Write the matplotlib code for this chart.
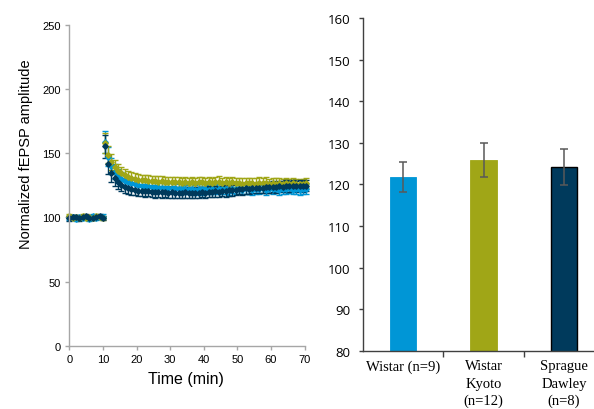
import numpy as np
import matplotlib
matplotlib.use("Agg")
import matplotlib.pyplot as plt

# ---------------- data ----------------
# time course: baseline (min 0-10) and post-induction (min 10.5-70.5)
base_t = np.arange(0, 11, 1.0)
post_t = np.arange(10.5, 71, 1.0)

wistar_base = [99.5, 100.2, 99.1, 100.6, 99.8, 100.4, 98.9, 100.9, 99.6, 100.3, 100.7]
wk_base = [100.8, 99.4, 100.5, 99.9, 101.2, 99.3, 100.6, 99.7, 101.0, 100.2, 99.6]
sd_base = [99.2, 100.6, 100.1, 99.4, 100.3, 100.9, 99.8, 99.5, 100.4, 100.8, 99.9]

wistar_base_sem = [1.6, 1.4, 1.8, 1.5, 1.7, 1.3, 1.9, 1.5, 1.6, 1.4, 1.7]
wk_base_sem = [1.5, 1.7, 1.4, 1.6, 1.8, 1.5, 1.3, 1.7, 1.6, 1.5, 1.4]
sd_base_sem = [1.7, 1.5, 1.6, 1.9, 1.4, 1.6, 1.8, 1.5, 1.3, 1.7, 1.6]

wistar_post = [159.0, 147.5, 140.2, 135.6, 132.4, 130.1, 128.6, 127.3, 126.5, 125.9,
               125.2, 124.9, 124.3, 124.6, 123.8, 123.5, 123.9, 123.1, 122.8, 123.3,
               122.6, 122.9, 122.2, 122.7, 121.9, 122.4, 122.1, 121.6, 122.3, 121.8,
               122.0, 121.5, 122.2, 121.7, 122.4, 121.9, 122.1, 121.6, 122.5, 121.8,
               122.3, 121.7, 122.6, 122.0, 121.4, 122.2, 121.9, 122.7, 121.6, 122.3,
               121.8, 122.5, 121.5, 122.2, 121.9, 122.6, 121.7, 122.1, 121.4, 122.3, 121.9]
wk_post = [158.0, 149.0, 143.2, 139.1, 136.4, 134.5, 133.0, 131.8, 130.9, 130.2,
           129.5, 129.0, 129.3, 128.6, 128.2, 128.5, 127.9, 128.3, 127.6, 128.0,
           127.3, 127.8, 127.5, 127.1, 127.7, 127.2, 127.6, 127.0, 127.4, 127.9,
           127.2, 127.6, 127.0, 127.3, 127.8, 126.9, 127.4, 126.9, 127.5, 126.8,
           127.0, 126.4, 127.2, 126.7, 126.9, 126.4, 127.1, 126.6, 127.2, 126.0,
           126.6, 126.3, 127.0, 125.8, 126.5, 126.1, 126.9, 126.0, 126.4, 126.2, 126.7]
sd_post = [155.5, 141.5, 134.6, 130.4, 127.5, 125.6, 124.1, 123.0, 122.2, 121.6,
           121.0, 120.7, 120.3, 120.6, 119.9, 119.7, 120.1, 119.5, 119.8, 119.3,
           119.6, 119.1, 119.4, 119.0, 119.5, 119.2, 118.9, 119.4, 119.1, 119.7,
           119.4, 120.0, 119.7, 120.3, 120.1, 120.7, 120.6, 121.2, 121.1, 121.7,
           122.2, 122.0, 122.6, 122.5, 123.0, 122.8, 123.3, 123.1, 123.6, 123.4,
           124.0, 123.7, 124.3, 124.1, 124.6, 124.2, 124.8, 124.4, 124.9, 124.5, 124.7]

wistar_post_sem = [8.5, 7.2, 6.4, 5.8, 5.4, 5.0, 4.8, 4.6, 4.4, 4.3,
                   4.1, 4.2, 3.9, 4.0, 3.8, 4.1, 3.9, 3.7, 4.0, 3.8,
                   3.9, 3.6, 3.8, 4.0, 3.7, 3.9, 3.6, 3.8, 3.7, 4.0,
                   3.8, 3.6, 3.9, 3.7, 3.8, 4.0, 3.6, 3.9, 3.7, 3.8,
                   3.9, 3.7, 4.0, 3.6, 3.8, 3.9, 3.7, 3.8, 4.0, 3.6,
                   3.9, 3.7, 3.8, 4.1, 3.6, 3.9, 3.8, 3.7, 4.0, 3.8, 3.9]
wk_post_sem = [8.0, 6.9, 6.1, 5.6, 5.2, 4.9, 4.7, 4.5, 4.3, 4.2,
               4.0, 4.1, 3.9, 4.2, 3.8, 4.0, 4.1, 3.9, 4.0, 3.8,
               4.1, 3.9, 4.0, 3.8, 4.2, 3.9, 4.0, 4.1, 3.8, 4.0,
               3.9, 4.1, 3.8, 4.0, 4.2, 3.9, 4.0, 3.8, 4.1, 3.9,
               4.0, 4.2, 3.9, 4.1, 3.8, 4.0, 4.1, 3.9, 4.2, 4.0,
               3.9, 4.1, 4.0, 3.8, 4.2, 3.9, 4.1, 4.0, 3.9, 4.1, 4.0]
sd_post_sem = [8.8, 7.5, 6.6, 6.0, 5.5, 5.1, 4.9, 4.7, 4.5, 4.4,
               4.3, 4.2, 4.4, 4.1, 4.3, 4.2, 4.0, 4.3, 4.1, 4.4,
               4.2, 4.0, 4.3, 4.1, 4.2, 4.4, 4.0, 4.2, 4.3, 4.1,
               4.2, 4.4, 4.1, 4.3, 4.0, 4.2, 4.4, 4.1, 4.3, 4.2,
               4.0, 4.3, 4.1, 4.4, 4.2, 4.0, 4.3, 4.1, 4.2, 4.4,
               4.1, 4.3, 4.0, 4.2, 4.4, 4.1, 4.3, 4.2, 4.0, 4.3, 4.2]

# summary (last 10 min)
strains = ["Wistar (n=9)", "Wistar\nKyoto\n(n=12)", "Sprague\nDawley\n(n=8)"]
summary_mean = [121.8, 125.9, 124.2]
summary_sem = [3.6, 4.1, 4.3]

colors = ["#0096D6", "#A0A617", "#003A5C"]
edge_colors = ["#0096D6", "#A0A617", "#000000"]

# ---------------- figure ----------------
fig = plt.figure(figsize=(5.94, 4.10), dpi=100)

# left panel: time course
ax1 = fig.add_axes([0.1167, 0.1544, 0.396, 0.782])
series = [
    (wistar_base, wistar_base_sem, wistar_post, wistar_post_sem, colors[0]),
    (wk_base, wk_base_sem, wk_post, wk_post_sem, colors[1]),
    (sd_base, sd_base_sem, sd_post, sd_post_sem, colors[2]),
]
for b, bs, p, ps, c in series:
    for t, m, s in ((base_t, b, bs), (post_t, p, ps)):
        ax1.errorbar(t, m, yerr=s, fmt="D", ms=2.8, color=c, mec=c,
                     ecolor=c, elinewidth=1.0, capsize=2.0, capthick=1.0,
                     clip_on=False)

ax1.set_xlim(0, 70)
ax1.set_ylim(0, 250)
ax1.set_xticks(range(0, 71, 10))
ax1.set_yticks(range(0, 251, 50))
for side in ("top", "right"):
    ax1.spines[side].set_visible(False)
for side in ("left", "bottom"):
    ax1.spines[side].set_color("#A6A6A6")
    ax1.spines[side].set_linewidth(1.0)
ax1.tick_params(axis="both", direction="out", length=3, width=1.0,
                color="#A6A6A6", labelsize=8, pad=3)
for lab in ax1.get_xticklabels() + ax1.get_yticklabels():
    lab.set_family("Liberation Sans")
ax1.set_xlabel("Time (min)", fontsize=11.5, family="Liberation Sans")
ax1.set_ylabel("Normalized fEPSP amplitude", fontsize=10.5,
               family="Liberation Sans")
ax1.xaxis.set_label_coords(0.496, -0.08)
ax1.yaxis.set_label_coords(-0.154, 0.599)

# right panel: summary bars
ax2 = fig.add_axes([0.611, 0.1415, 0.406, 0.8122])
x = np.arange(len(strains))
ax2.bar(x, summary_mean, width=0.33, color=colors, edgecolor=edge_colors,
        linewidth=[0.6, 0.6, 1.0], zorder=2)
ax2.errorbar(x, summary_mean, yerr=summary_sem, fmt="none", ecolor="#595959",
             elinewidth=1.1, capsize=3, capthick=1.1, zorder=3)
ax2.set_xlim(-0.5, 2.5)
ax2.set_ylim(80, 160)
ax2.set_yticks(range(80, 161, 10))
ax2.set_xticks(x)
ax2.set_xticklabels(strains, family="Liberation Serif", fontsize=10.5,
                    linespacing=1.42)
ax2.set_xticks([0.5, 1.5], minor=True)
ax2.tick_params(axis="x", which="major", length=0, pad=6)
ax2.tick_params(axis="x", which="minor", length=4, width=1.0, color="#404040")
ax2.tick_params(axis="y", direction="out", length=3, width=1.0,
                color="#404040", labelsize=9.5, pad=6)
for lab in ax2.get_yticklabels():
    lab.set_family("Open Sans")
for side in ("top", "right"):
    ax2.spines[side].set_visible(False)
for side in ("left", "bottom"):
    ax2.spines[side].set_color("#404040")
    ax2.spines[side].set_linewidth(1.0)

fig.savefig("out.png", dpi=100)
